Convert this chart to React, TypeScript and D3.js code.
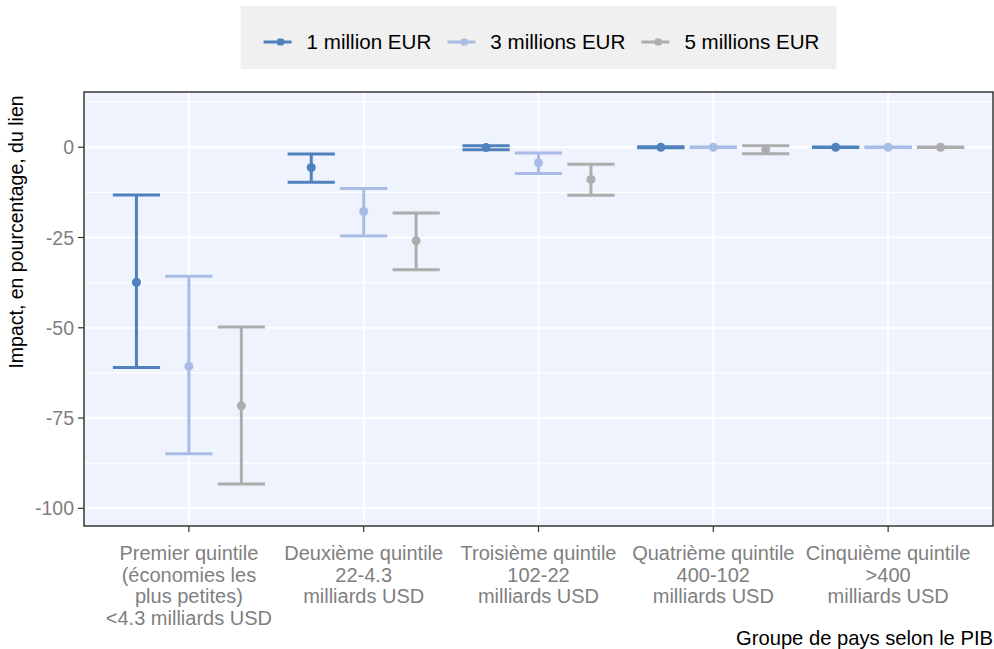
import React, { useEffect, useRef } from 'react';
import * as d3 from 'd3';

const categories: string[] = [
  'Premier quintile\n(économies les\nplus petites)\n<4.3 milliards USD',
  'Deuxième quintile\n22-4.3\nmilliards USD',
  'Troisième quintile\n102-22\nmilliards USD',
  'Quatrième quintile\n400-102\nmilliards USD',
  'Cinquième quintile\n>400\nmilliards USD',
];
const seriesNames: string[] = ['1 million EUR', '3 millions EUR', '5 millions EUR'];
const seriesColors: string[] = ['#4F81BD', '#A8BCE6', '#ADADAD'];

const mid1: number[] = [-37.4, -5.6, -0.1, 0, 0];
const low1: number[] = [-61.0, -9.7, -0.7, -0.15, -0.1];
const high1: number[] = [-13.2, -1.9, 0.4, 0.15, 0.1];

const mid3: number[] = [-60.7, -17.8, -4.3, 0, 0];
const low3: number[] = [-84.9, -24.6, -7.3, -0.1, -0.1];
const high3: number[] = [-35.7, -11.4, -1.6, 0.1, 0.1];

const mid5: number[] = [-71.6, -25.9, -8.9, -0.7, 0];
const low5: number[] = [-93.3, -33.9, -13.3, -1.8, -0.1];
const high5: number[] = [-49.8, -18.2, -4.7, 0.4, 0.1];

const yTicks: number[] = [0, -25, -50, -75, -100];
const yMinor: number[] = [12.5, -12.5, -37.5, -62.5, -87.5];

const yTitle = 'Impact, en pourcentage, du lien';
const xTitle = 'Groupe de pays selon le PIB';

const W = 994;
const H = 649;
const FONT = "'Liberation Sans', Arial, Helvetica, sans-serif";

export default function App() {
  const ref = useRef<SVGSVGElement | null>(null);

  useEffect(() => {
    const svg = d3.select(ref.current);
    svg.selectAll('*').remove();

    const left = 84, right = 993, top = 92, bottom = 526;

    const x = d3.scalePoint<number>()
      .domain(d3.range(categories.length))
      .range([left, right])
      .padding(0.6);
    const step = x.step();
    const y = d3.scaleLinear().domain([-104.9, 15.3]).range([bottom, top]);

    const series = [
      { name: seriesNames[0], color: seriesColors[0], mid: mid1, low: low1, high: high1 },
      { name: seriesNames[1], color: seriesColors[1], mid: mid3, low: low3, high: high3 },
      { name: seriesNames[2], color: seriesColors[2], mid: mid5, low: low5, high: high5 },
    ];

    // panel
    svg.append('rect')
      .attr('x', left).attr('y', top)
      .attr('width', right - left).attr('height', bottom - top)
      .attr('fill', '#EEF3FE');

    const grid = svg.append('g');
    yMinor.forEach(v => {
      grid.append('line')
        .attr('x1', left).attr('x2', right)
        .attr('y1', y(v)).attr('y2', y(v))
        .attr('stroke', '#ffffff').attr('stroke-width', 1.2);
    });
    yTicks.forEach(v => {
      grid.append('line')
        .attr('x1', left).attr('x2', right)
        .attr('y1', y(v)).attr('y2', y(v))
        .attr('stroke', '#ffffff').attr('stroke-width', 2);
    });
    categories.forEach((_, i) => {
      grid.append('line')
        .attr('x1', x(i)!).attr('x2', x(i)!)
        .attr('y1', top).attr('y2', bottom)
        .attr('stroke', '#ffffff').attr('stroke-width', 2);
    });

    // error bars
    const dodge = 0.3 * step;
    const capW = 0.27 * step;
    series.forEach((s, si) => {
      const g = svg.append('g');
      categories.forEach((_, i) => {
        const cx = x(i)! + (si - 1) * dodge;
        g.append('line')
          .attr('x1', cx).attr('x2', cx)
          .attr('y1', y(s.low[i])).attr('y2', y(s.high[i]))
          .attr('stroke', s.color).attr('stroke-width', 3);
        [s.low[i], s.high[i]].forEach(v => {
          g.append('line')
            .attr('x1', cx - capW / 2).attr('x2', cx + capW / 2)
            .attr('y1', y(v)).attr('y2', y(v))
            .attr('stroke', s.color).attr('stroke-width', 3);
        });
        g.append('circle')
          .attr('cx', cx).attr('cy', y(s.mid[i]))
          .attr('r', 4.5).attr('fill', s.color);
      });
    });

    // border
    svg.append('rect')
      .attr('x', left).attr('y', top)
      .attr('width', right - left).attr('height', bottom - top)
      .attr('fill', 'none').attr('stroke', '#1a1a1a').attr('stroke-width', 1.3);

    // y axis ticks & labels
    yTicks.forEach(v => {
      svg.append('line')
        .attr('x1', left - 6).attr('x2', left)
        .attr('y1', y(v)).attr('y2', y(v))
        .attr('stroke', '#333333').attr('stroke-width', 1.2);
      svg.append('text')
        .attr('x', left - 10).attr('y', y(v))
        .attr('dy', '0.36em')
        .attr('text-anchor', 'end')
        .attr('font-family', FONT).attr('font-size', 19.5)
        .attr('fill', '#7F7F7F')
        .text(String(v));
    });

    // x axis ticks & labels
    categories.forEach((c, i) => {
      svg.append('line')
        .attr('x1', x(i)!).attr('x2', x(i)!)
        .attr('y1', bottom).attr('y2', bottom + 6)
        .attr('stroke', '#333333').attr('stroke-width', 1.2);
      const t = svg.append('text')
        .attr('text-anchor', 'middle')
        .attr('font-family', FONT).attr('font-size', 20)
        .attr('fill', '#7F7F7F');
      c.split('\n').forEach((line, li) => {
        t.append('tspan')
          .attr('x', x(i)!)
          .attr('y', 560 + li * 21.7)
          .text(line);
      });
    });

    // axis titles
    svg.append('text')
      .attr('transform', `translate(23, ${(top + bottom) / 2 - 77}) rotate(-90)`)
      .attr('text-anchor', 'middle')
      .attr('font-family', FONT).attr('font-size', 19.5)
      .attr('fill', '#000000')
      .text(yTitle);
    svg.append('text')
      .attr('x', right).attr('y', 645)
      .attr('text-anchor', 'end')
      .attr('font-family', FONT).attr('font-size', 20.2)
      .attr('fill', '#000000')
      .text(xTitle);

    // legend
    const lg = svg.append('g');
    const keyW = 28, keyGap = 15, itemGap = 16, pad = 20;
    const texts = series.map(s => {
      const t = lg.append('text')
        .attr('font-family', FONT).attr('font-size', 20.6)
        .attr('fill', '#000000')
        .attr('y', 42).attr('dy', '0.36em')
        .text(s.name);
      return { t, w: (t.node() as SVGTextElement).getComputedTextLength() };
    });
    const totalW = pad * 2 + texts.reduce((a, b) => a + keyW + keyGap + b.w, 0) + itemGap * (texts.length - 1);
    const lx0 = (left + right) / 2 - totalW / 2;
    lg.insert('rect', ':first-child')
      .attr('x', lx0).attr('y', 6)
      .attr('width', totalW).attr('height', 63)
      .attr('fill', '#F0F0F0');
    let cx = lx0 + pad + 3;
    series.forEach((s, si) => {
      lg.append('line')
        .attr('x1', cx).attr('x2', cx + keyW)
        .attr('y1', 42).attr('y2', 42)
        .attr('stroke', s.color).attr('stroke-width', 3);
      lg.append('rect')
        .attr('x', cx + keyW / 2 + 3 - 3.5).attr('y', 42 - 3.5)
        .attr('width', 7).attr('height', 7)
        .attr('rx', 2)
        .attr('fill', s.color);
      texts[si].t.attr('x', cx + keyW + keyGap);
      cx += keyW + keyGap + texts[si].w + itemGap;
    });
  }, []);

  return (
    <svg
      ref={ref}
      width={W}
      height={H}
      style={{ position: 'absolute', left: 0, top: 0, background: '#ffffff' }}
    />
  );
}
